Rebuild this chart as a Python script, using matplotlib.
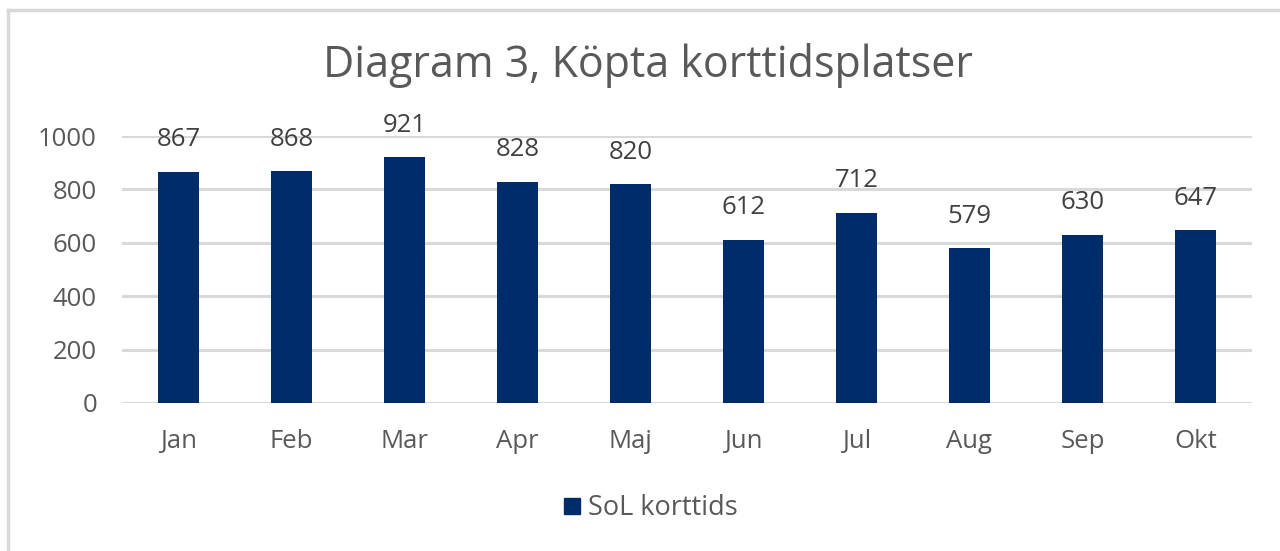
import matplotlib
matplotlib.use("Agg")
import matplotlib.pyplot as plt
from matplotlib.lines import Line2D

months = ["Jan", "Feb", "Mar", "Apr", "Maj", "Jun", "Jul", "Aug", "Sep", "Okt"]
values = [867, 868, 921, 828, 820, 612, 712, 579, 630, 647]
series_name = "SoL korttids"
title = "Diagram 3, Köpta korttidsplatser"
yticks = [0, 200, 400, 600, 800, 1000]

plt.rcParams['font.family'] = ['Open Sans', 'DejaVu Sans']

W, H = 1280, 551
fig = plt.figure(figsize=(W / 100, H / 100), dpi=100)
ax = fig.add_axes([122 / W, (H - 403) / H, (1252 - 122) / W, (403 - 136) / H])

bar_color = "#002D6A"
x = list(range(len(months)))
ax.bar(x, values, width=0.36, color=bar_color, zorder=3)
for xi, v in zip(x, values):
    ax.annotate(str(v), (xi, v), xytext=(0, 14), textcoords="offset points",
                ha="center", va="bottom", fontsize=18.5, color="#404040",
                annotation_clip=False)

ax.set_xlim(-0.5, len(months) - 0.5)
ax.set_ylim(0, 1000)
ax.set_yticks(yticks)
ax.set_yticklabels([str(t) for t in yticks])
ax.set_xticks(x)
ax.set_xticklabels(months)
ax.tick_params(axis="both", length=0, labelsize=18.5, labelcolor="#595959")
ax.tick_params(axis="y", pad=18)
ax.tick_params(axis="x", pad=19)
ax.grid(axis="y", color="#D9D9D9", linewidth=2.2, zorder=0)
for s in ax.spines.values():
    s.set_visible(False)

fig.text(648 / W, 1 - 66 / H, title, ha="center", va="center", fontsize=31,
         color="#595959")

handle = Line2D([], [], marker="s", linestyle="none", markersize=12,
                markerfacecolor=bar_color, markeredgecolor=bar_color)
fig.legend([handle], [series_name], loc="center", bbox_to_anchor=(648 / W, 1 - 508 / H),
           frameon=False, fontsize=19.5, handletextpad=0.1, labelcolor="#595959",
           handlelength=1.0)

# outer chart border (top and left visible)
fig.add_artist(Line2D([8 / W, 8 / W], [0, 1 - 10 / H], transform=fig.transFigure,
                      color="#D9D9D9", linewidth=2.5))
fig.add_artist(Line2D([8 / W, 1], [1 - 10 / H, 1 - 10 / H], transform=fig.transFigure,
                      color="#D9D9D9", linewidth=2.5))

fig.savefig("out.png", dpi=100, facecolor="white")
